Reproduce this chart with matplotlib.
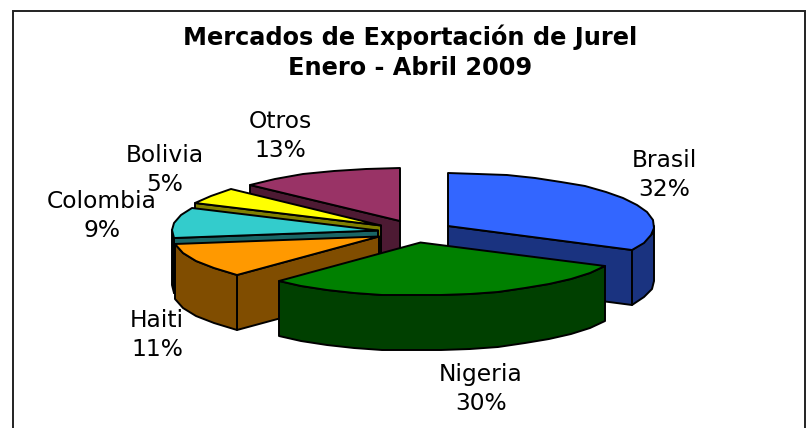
import numpy as np
import matplotlib
matplotlib.use("Agg")
import matplotlib.pyplot as plt
from matplotlib.patches import Polygon, Rectangle

names = ["Brasil", "Nigeria", "Haiti", "Colombia", "Bolivia", "Otros"]
shares = [32.4, 29.7, 10.6, 9.4, 4.9, 13.0]
top_colors = ["#3366FF", "#008000", "#FF9900", "#33CCCC", "#FFFF00", "#993366"]
side_colors = ["#1A3380", "#004000", "#804D00", "#1A6666", "#808000", "#4D1A33"]
title = "Mercados de Exportación de Jurel\nEnero - Abril 2009"

# layout in pixels of the 807x428 picture
rx, ry = 206, 53
depth = 55
draw_order = [5, 4, 3, 2, 0, 1]  # back to front
apexes = [(448, 226), (420.5, 242.5), (379, 236.5), (378, 230.5), (381, 225.5), (400, 221)]
label_pos = [(664, 175), (481, 389), (157, 335), (102, 216), (165, 170), (280, 136)]


def point(apex, t):
    # t in degrees, clockwise from straight up
    r = np.radians(t)
    return np.round([apex[0] + rx * np.sin(r), apex[1] - ry * np.cos(r)])


def down(pts):
    return [(x, y + depth) for x, y in pts]


fig = plt.figure(figsize=(8.07, 4.28), dpi=100)
ax = fig.add_axes([0, 0, 1, 1])
ax.set_xlim(0, 807)
ax.set_ylim(428, 0)
ax.axis("off")

ax.add_patch(Rectangle((13, 11), 792, 440, fc="white", ec="#222222", lw=1.4))

edges = np.cumsum([0] + shares) / sum(shares) * 360
for i in draw_order:
    t0, t1 = edges[i], edges[i + 1]
    apex = apexes[i]
    style = dict(ec="black", lw=1.4, joinstyle="round")

    # walls that face the viewer
    if np.sin(np.radians(t0)) < -1e-6:
        wall = [apex, tuple(point(apex, t0))]
        ax.add_patch(Polygon(wall + down(wall)[::-1], fc=side_colors[i], **style))
    if np.sin(np.radians(t1)) > 1e-6:
        wall = [apex, tuple(point(apex, t1))]
        ax.add_patch(Polygon(wall + down(wall)[::-1], fc=side_colors[i], **style))

    # outer rim, front half only
    a, b = max(t0, 90), min(t1, 270)
    if b > a:
        ts = np.linspace(a, b, max(2, int((b - a) / 8) + 1))
        rim = [tuple(point(apex, t)) for t in ts]
        ax.add_patch(Polygon(rim + down(rim)[::-1], fc=side_colors[i], **style))

    ts = np.linspace(t0, t1, max(2, int((t1 - t0) / 8) + 1))
    top = [apex] + [tuple(point(apex, t)) for t in ts]
    ax.add_patch(Polygon(top, fc=top_colors[i], **style))

for name, share, (x, y) in zip(names, shares, label_pos):
    ax.text(x, y, f"{name}\n{round(share)}%", ha="center", va="center", fontsize=16.8,
            linespacing=1.3, color="black")

ax.text(410, 52, title, ha="center", va="center", fontsize=17.3, fontweight="bold",
        linespacing=1.3, color="black")

fig.savefig("out.png", dpi=100)
